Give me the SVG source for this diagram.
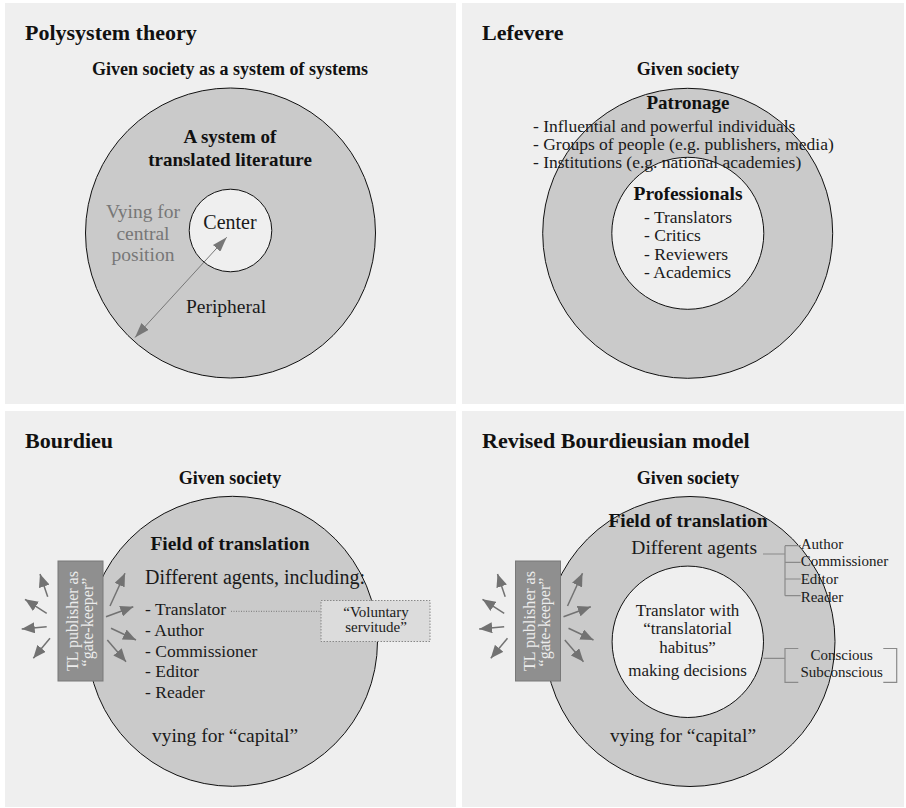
<svg xmlns="http://www.w3.org/2000/svg" width="906" height="808" viewBox="0 0 906 808">
<defs>
<style>
text{font-family:"Liberation Serif","Times New Roman",serif;fill:#1a1a1a}
.title{font-size:22px;font-weight:bold;fill:#111}
.sub{font-size:18px;font-weight:bold;fill:#111;text-anchor:middle}
.hd{font-size:19.5px;font-weight:bold;fill:#111;text-anchor:middle}
.body{font-size:19.5px}
.list{font-size:17.5px}
.small{font-size:15px}
.mid{text-anchor:middle}
.panel{fill:#efefef}
.outer{fill:#cacaca;stroke:#111;stroke-width:1}
.inner{fill:#efefef;stroke:#111;stroke-width:1}
.gk{fill:#8f8f8f;stroke:#787878;stroke-width:1}
.gkt{font-size:16px;fill:#ececec;text-anchor:middle}
.ga{stroke:#727272;stroke-width:1.5;fill:none;marker-end:url(#ah)}
.br{stroke:#8a8a8a;stroke-width:1.2;fill:none}
.tr{font-size:17px;text-anchor:middle}
</style>
<marker id="ah" markerUnits="userSpaceOnUse" markerWidth="13" markerHeight="11" refX="13" refY="5.5" orient="auto">
<path d="M0,0 L13,5.5 L0,11 Z" fill="#727272"/>
</marker>
<marker id="ah2" markerUnits="userSpaceOnUse" markerWidth="15" markerHeight="10" refX="15" refY="5" orient="auto-start-reverse">
<path d="M0,0 L15,5 L0,10 Z" fill="#777"/>
</marker>
</defs>
<rect width="906" height="808" fill="#ffffff"/>
<g id="panels">
<rect class="panel" x="5" y="3" width="451" height="401"/>
<rect class="panel" x="462" y="3" width="442" height="401"/>
<rect class="panel" x="5" y="411" width="451" height="396"/>
<rect class="panel" x="462" y="411" width="442" height="396"/>
</g>

<!-- Panel 1: Polysystem theory -->
<g id="polysystem">
<text class="title" x="25" y="40">Polysystem theory</text>
<text class="sub" x="230" y="75">Given society as a system of systems</text>
<g id="ps-outer">
<circle class="outer" cx="230.5" cy="233" r="145"/>
<text class="hd" x="230" y="143" style="font-size:19px">A system of</text>
<text class="hd" x="230" y="166" style="font-size:19px">translated literature</text>
<text class="body mid" x="143" y="218" style="fill:#777">Vying for</text>
<text class="body mid" x="143" y="240" style="fill:#777">central</text>
<text class="body mid" x="143" y="261" style="fill:#777">position</text>
<text class="body mid" x="226" y="313">Peripheral</text>
</g>
<g id="ps-center">
<circle class="inner" cx="230.5" cy="230.5" r="41.3"/>
<text class="body mid" x="230" y="229" style="font-size:20px">Center</text>
</g>
</g>

<!-- Panel 2: Lefevere -->
<g id="lefevere">
<text class="title" x="482" y="40">Lefevere</text>
<text class="sub" x="688" y="75">Given society</text>
<g id="lf-patronage">
<circle class="outer" cx="687.7" cy="233.3" r="145"/>
</g>
<g id="lf-professionals">
<circle class="inner" cx="687.8" cy="233.3" r="76"/>
</g>
<text class="hd" x="688" y="109" style="font-size:19px">Patronage</text>
<text class="list" x="533" y="131.5">- Influential and powerful individuals</text>
<text class="list" x="533" y="149.5">- Groups of people (e.g. publishers, media)</text>
<text class="list" x="533" y="168">- Institutions (e.g. national academies)</text>
<text class="hd" x="688" y="200">Professionals</text>
<text class="list" x="644" y="222.5">- Translators</text>
<text class="list" x="644" y="241">- Critics</text>
<text class="list" x="644" y="259.5">- Reviewers</text>
<text class="list" x="644" y="278">- Academics</text>
</g>

<!-- Panel 3: Bourdieu -->
<g id="bourdieu">
<text class="title" x="25" y="448">Bourdieu</text>
<text class="sub" x="230" y="484">Given society</text>
<g id="bd-field">
<circle class="outer" cx="232.5" cy="641.3" r="145"/>
<text class="hd" x="230" y="549.5">Field of translation</text>
<text class="body" x="145" y="584" style="font-size:20px">Different agents, including:</text>
<text class="list" x="145" y="614.5">- Translator</text>
<text class="list" x="145" y="635.5">- Author</text>
<text class="list" x="145" y="656.5">- Commissioner</text>
<text class="list" x="145" y="677">- Editor</text>
<text class="list" x="145" y="697.5">- Reader</text>
<text class="body mid" x="225" y="742.3">vying for “capital”</text>
</g>
<g id="bd-gatekeeper">
<rect class="gk" x="58" y="561" width="45" height="120"/>
<text class="gkt" transform="translate(77.5,621) rotate(-90)">TL publisher as</text>
<text class="gkt" transform="translate(92.5,622) rotate(-90)">“gate-keeper”</text>
</g>
<g id="bd-voluntary">
<rect x="321" y="600.5" width="109" height="41" fill="#dcdcdc" stroke="#888" stroke-width="1" stroke-dasharray="1.5,1.5"/>
<text class="small mid" x="376" y="616.5">“Voluntary</text>
<text class="small mid" x="376" y="631.5">servitude”</text>
</g>
</g>

<!-- Panel 4: Revised Bourdieusian model -->
<g id="revised">
<text class="title" x="482" y="448">Revised Bourdieusian model</text>
<text class="sub" x="688" y="484">Given society</text>
<g id="rv-field">
<circle class="outer" cx="690" cy="641.5" r="145"/>
<text class="hd" x="688" y="527.3">Field of translation</text>
<text class="body" x="631.3" y="554">Different agents</text>
<text class="body mid" x="683" y="742.3">vying for “capital”</text>
</g>
<g id="rv-translator">
<circle class="inner" cx="687.8" cy="641.8" r="75.7"/>
<text class="tr" x="687.5" y="615.5">Translator with</text>
<text class="tr" x="687.5" y="634.3">“translatorial</text>
<text class="tr" x="687.5" y="653">habitus”</text>
<text class="tr" x="687.5" y="676.3">making decisions</text>
</g>
<g id="rv-agents">
<text class="small" x="800.7" y="549">Author</text>
<text class="small" x="800.7" y="566">Commissioner</text>
<text class="small" x="800.7" y="584">Editor</text>
<text class="small" x="800.7" y="601.5">Reader</text>
</g>
<g id="rv-conscious">
<text class="small mid" x="841.7" y="660">Conscious</text>
<text class="small mid" x="841.7" y="676.7">Subconscious</text>
</g>
<g id="rv-gatekeeper">
<rect class="gk" x="515.5" y="561" width="45" height="120"/>
<text class="gkt" transform="translate(535,621) rotate(-90)">TL publisher as</text>
<text class="gkt" transform="translate(550,622) rotate(-90)">“gate-keeper”</text>
</g>
</g>

<!-- Connectors -->
<g id="connectors">
<line x1="226.7" y1="237.3" x2="135" y2="337.5" stroke="#777" stroke-width="1" marker-start="url(#ah2)" marker-end="url(#ah2)"/>
<g id="bd-arrows">
<line class="ga" x1="47.7" y1="596.7" x2="40" y2="574"/>
<line class="ga" x1="46.7" y1="613.3" x2="25" y2="599.3"/>
<line class="ga" x1="46.7" y1="626.7" x2="21.7" y2="629"/>
<line class="ga" x1="50" y1="638.3" x2="33.3" y2="658.3"/>
<line class="ga" x1="110" y1="606" x2="125" y2="573.3"/>
<line class="ga" x1="106" y1="616.7" x2="133.3" y2="606.7"/>
<line class="ga" x1="111" y1="628.3" x2="136" y2="640"/>
<line class="ga" x1="107.3" y1="640" x2="126" y2="661.7"/>
</g>
<g id="rv-arrows" transform="translate(457.5,0)">
<line class="ga" x1="47.7" y1="596.7" x2="40" y2="574"/>
<line class="ga" x1="46.7" y1="613.3" x2="25" y2="599.3"/>
<line class="ga" x1="46.7" y1="626.7" x2="21.7" y2="629"/>
<line class="ga" x1="50" y1="638.3" x2="33.3" y2="658.3"/>
<line class="ga" x1="110" y1="606" x2="125" y2="573.3"/>
<line class="ga" x1="106" y1="616.7" x2="133.3" y2="606.7"/>
<line class="ga" x1="111" y1="628.3" x2="136" y2="640"/>
<line class="ga" x1="107.3" y1="640" x2="126" y2="661.7"/>
</g>
<line x1="231" y1="611.3" x2="321" y2="611.3" stroke="#777" stroke-width="1" stroke-dasharray="1,1.5"/>
<path class="br" d="M763 554 H785 M785 545.7 V595.7 M785 545.7 H800.7 M785 562.3 H800.7 M785 579 H800.7 M785 595.7 H800.7"/>
<path class="br" d="M763.5 658.3 H785 M798.3 648.5 H785 V682.3 H798.3 M883.3 648.5 H896.7 V682.3 H883.3"/>
</g>
</svg>
